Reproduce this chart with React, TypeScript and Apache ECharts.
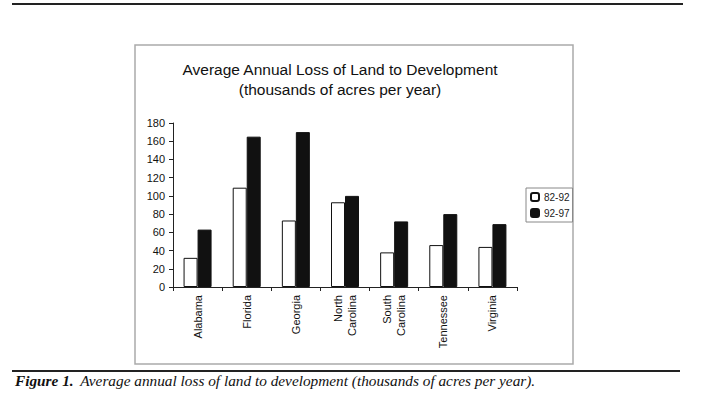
import React, { useEffect, useRef } from "react";
import * as echarts from "echarts";

const categories = ["Alabama", "Florida", "Georgia", "North\nCarolina", "South\nCarolina", "Tennessee", "Virginia"];
const series8292 = [32, 109, 73, 93, 38, 46, 44];
const series9297 = [63, 165, 170, 100, 72, 80, 69];
const seriesNames = ["82-92", "92-97"];
const titleLines = ["Average Annual Loss of Land to Development", "(thousands of acres per year)"];
const captionBold = "Figure 1.";
const captionText = "Average annual loss of land to development (thousands of acres per year).";

export default function App() {
  const ref = useRef<HTMLDivElement>(null);
  useEffect(() => {
    if (!ref.current) return;
    const chart = echarts.init(ref.current, null, { renderer: "svg" });
    const font = "Liberation Sans, Arial, sans-serif";
    const serif = "Liberation Serif, Times New Roman, serif";
    chart.setOption({
      animation: false,
      backgroundColor: "#ffffff",
      title: {
        text: titleLines.join("\n"),
        left: 340,
        top: 59,
        padding: 0,
        textAlign: "center",
        textStyle: { fontFamily: font, fontSize: 15.5, fontWeight: "normal", color: "#111", lineHeight: 20 },
      },
      legend: {
        orient: "vertical",
        left: 526,
        top: 188,
        padding: [4, 3, 4, 4],
        itemGap: 6,
        itemWidth: 8,
        itemHeight: 8,
        borderColor: "#888",
        borderWidth: 1,
        textStyle: { fontFamily: font, fontSize: 10, color: "#222" },
        data: seriesNames,
      },
      grid: { left: 173, right: 191, top: 123, bottom: 106, containLabel: false },
      xAxis: {
        type: "category",
        data: categories,
        boundaryGap: true,
        axisLine: { lineStyle: { color: "#222", width: 1 } },
        axisTick: { show: true, length: 4, lineStyle: { color: "#222" } },
        axisLabel: { rotate: 90, margin: 8, fontFamily: font, fontSize: 11, color: "#111", lineHeight: 14, interval: 0 },
      },
      yAxis: {
        type: "value",
        min: 0,
        max: 180,
        interval: 20,
        axisLine: { show: true, lineStyle: { color: "#222", width: 1 } },
        axisTick: { show: true, length: 4, lineStyle: { color: "#222" } },
        splitLine: { show: false },
        axisLabel: { margin: 8, fontFamily: font, fontSize: 11, color: "#111" },
      },
      series: [
        {
          name: seriesNames[0],
          type: "bar",
          data: series8292,
          barWidth: 14,
          barGap: "0%",
          itemStyle: { color: "#ffffff", borderColor: "#111", borderWidth: 1 },
        },
        {
          name: seriesNames[1],
          type: "bar",
          data: series9297,
          barWidth: 14,
          itemStyle: { color: "#111111", borderColor: "#111", borderWidth: 1 },
        },
      ],
      graphic: [
        { type: "line", shape: { x1: 12, y1: 4, x2: 683, y2: 4 }, style: { stroke: "#222", lineWidth: 2 } },
        { type: "rect", shape: { x: 135, y: 45, width: 438, height: 319 }, style: { fill: "none", stroke: "#aaa", lineWidth: 1.5 } },
        { type: "line", shape: { x1: 12, y1: 371, x2: 680, y2: 371 }, style: { stroke: "#222", lineWidth: 2 } },
        {
          type: "text",
          left: 15,
          top: 373,
          style: {
            text: "{b|" + captionBold + "}  {i|" + captionText + "}",
            rich: {
              b: { fontFamily: serif, fontStyle: "italic", fontWeight: "bold", fontSize: 15.3, fill: "#111" },
              i: { fontFamily: serif, fontStyle: "italic", fontSize: 15.3, fill: "#111" },
            },
          },
        },
      ],
    });
    return () => chart.dispose();
  }, []);
  return (
    <div style={{ position: "absolute", left: 0, top: 0, width: 708, height: 393, background: "#fff" }}>
      <div ref={ref} style={{ width: 708, height: 393 }} />
    </div>
  );
}
